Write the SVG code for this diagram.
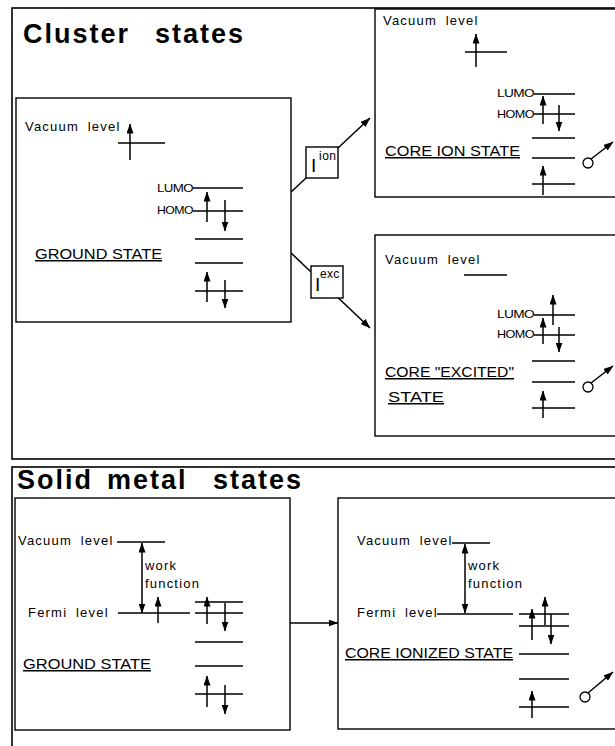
<svg xmlns="http://www.w3.org/2000/svg" width="615" height="746" viewBox="0 0 615 746">
<defs>
<marker id="ah" markerUnits="userSpaceOnUse" markerWidth="10" markerHeight="7" viewBox="0 0 10 7" refX="9.5" refY="3.5" orient="auto-start-reverse">
<path d="M0,0 L10,3.5 L0,7 z" fill="#000"/>
</marker>
</defs>
<style>
.frame{fill:none;stroke:#000;stroke-width:1.6}
.box{fill:#fff;stroke:#000;stroke-width:1.4}
.lvl{stroke:#000;stroke-width:1.3}
.ar{stroke:#000;stroke-width:1.5;marker-end:url(#ah)}
.dar{stroke:#000;stroke-width:1.5;marker-end:url(#ah);marker-start:url(#ah)}
.conn{stroke:#000;stroke-width:1.5;fill:none;marker-end:url(#ah)}
.title{font-family:"Liberation Sans",Arial,sans-serif;font-weight:bold;font-size:27px;letter-spacing:2px;fill:#000}
.lab{font-family:"Liberation Sans",Arial,sans-serif;font-size:13px;letter-spacing:1.2px;word-spacing:4px;fill:#000}
.mo{font-family:"Liberation Sans",Arial,sans-serif;font-size:11px;letter-spacing:-0.5px;fill:#000}
.st{font-family:"Liberation Sans",Arial,sans-serif;font-size:15px;text-decoration:underline;fill:#000}
.sym{font-family:"Liberation Sans",Arial,sans-serif;fill:#000}
.el{fill:#fff;stroke:#000;stroke-width:1.3}
</style>
<rect width="615" height="746" fill="#fff"/>

<g id="cluster-frame">
<rect class="frame" x="12" y="8" width="620" height="451"/>
<text class="title" y="43"><tspan x="23">Cluster</tspan><tspan x="155">states</tspan></text>
</g>

<g id="solid-frame">
<rect class="frame" x="12" y="467" width="620" height="300"/>
<text class="title" y="489"><tspan x="17">Solid</tspan><tspan x="107">metal</tspan><tspan x="213">states</tspan></text>
</g>

<g id="connectors">
<line class="conn" x1="290" y1="193" x2="370" y2="118"/>
<line class="conn" x1="290" y1="252" x2="370" y2="328"/>
<line class="conn" x1="290" y1="623" x2="338" y2="623"/>
</g>

<g id="label-ion">
<rect class="box" x="306" y="147" width="32" height="31"/>
<text class="sym" x="311" y="172" font-size="19">I</text>
<text class="sym" x="319" y="160" font-size="12" letter-spacing="0.5">ion</text>
</g>

<g id="label-exc">
<rect class="box" x="311" y="266" width="32" height="32"/>
<text class="sym" x="315" y="291" font-size="19">I</text>
<text class="sym" x="320" y="278" font-size="12" letter-spacing="0.3">exc</text>
</g>

<g id="cluster-ground-state">
<rect class="box" x="16" y="98" width="275" height="224"/>
<text class="lab" x="25" y="131">Vacuum level</text>
<line class="lvl" x1="118" y1="143" x2="165" y2="143"/>
<line class="ar" x1="130" y1="160" x2="130" y2="124"/>
<text class="mo" x="157" y="192" textLength="36" lengthAdjust="spacingAndGlyphs">LUMO</text>
<line class="lvl" x1="193" y1="188" x2="243" y2="188"/>
<text class="mo" x="157" y="214" textLength="36" lengthAdjust="spacingAndGlyphs">HOMO</text>
<line class="lvl" x1="193" y1="211" x2="243" y2="211"/>
<line class="ar" x1="207" y1="222" x2="207" y2="192"/>
<line class="ar" x1="225" y1="200" x2="225" y2="231"/>
<line class="lvl" x1="195" y1="239" x2="243" y2="239"/>
<line class="lvl" x1="195" y1="263" x2="243" y2="263"/>
<line class="lvl" x1="195" y1="291" x2="243" y2="291"/>
<line class="ar" x1="207" y1="302" x2="207" y2="272"/>
<line class="ar" x1="225" y1="280" x2="225" y2="308"/>
<text class="st" x="35" y="259" textLength="127" lengthAdjust="spacingAndGlyphs">GROUND STATE</text>
</g>

<g id="core-ion-state">
<rect class="box" x="375" y="9" width="260" height="188"/>
<text class="lab" x="383" y="25">Vacuum level</text>
<line class="lvl" x1="465" y1="52" x2="507" y2="52"/>
<line class="ar" x1="476" y1="67" x2="476" y2="34"/>
<text class="mo" x="497" y="97" textLength="37" lengthAdjust="spacingAndGlyphs">LUMO</text>
<line class="lvl" x1="534" y1="94" x2="575" y2="94"/>
<text class="mo" x="497" y="118" textLength="37" lengthAdjust="spacingAndGlyphs">HOMO</text>
<line class="lvl" x1="534" y1="114" x2="575" y2="114"/>
<line class="ar" x1="543" y1="124" x2="543" y2="96"/>
<line class="ar" x1="559" y1="105" x2="559" y2="131"/>
<line class="lvl" x1="532" y1="138" x2="575" y2="138"/>
<line class="lvl" x1="532" y1="158" x2="575" y2="158"/>
<line class="lvl" x1="532" y1="184" x2="575" y2="184"/>
<line class="ar" x1="543" y1="195" x2="543" y2="166"/>
<text class="st" x="385" y="156" textLength="135" lengthAdjust="spacingAndGlyphs">CORE ION STATE</text>
<circle class="el" cx="588" cy="163" r="5"/>
<line class="ar" x1="591" y1="159" x2="613" y2="142"/>
</g>

<g id="core-excited-state">
<rect class="box" x="375" y="235" width="260" height="201"/>
<text class="lab" x="385" y="264">Vacuum level</text>
<line class="lvl" x1="464" y1="275" x2="507" y2="275"/>
<text class="mo" x="497" y="318" textLength="37" lengthAdjust="spacingAndGlyphs">LUMO</text>
<line class="lvl" x1="534" y1="315" x2="575" y2="315"/>
<line class="ar" x1="553" y1="325" x2="553" y2="295"/>
<text class="mo" x="497" y="338" textLength="37" lengthAdjust="spacingAndGlyphs">HOMO</text>
<line class="lvl" x1="534" y1="335" x2="575" y2="335"/>
<line class="ar" x1="543" y1="344" x2="543" y2="318"/>
<line class="ar" x1="559" y1="327" x2="559" y2="352"/>
<line class="lvl" x1="532" y1="361" x2="575" y2="361"/>
<line class="lvl" x1="532" y1="382" x2="575" y2="382"/>
<line class="lvl" x1="532" y1="408" x2="575" y2="408"/>
<line class="ar" x1="543" y1="418" x2="543" y2="391"/>
<text class="st" x="385" y="377" textLength="129" lengthAdjust="spacingAndGlyphs">CORE "EXCITED"</text>
<text class="st" x="388" y="402" textLength="56" lengthAdjust="spacingAndGlyphs">STATE</text>
<circle class="el" cx="588" cy="387" r="5"/>
<line class="ar" x1="591" y1="383" x2="613" y2="366"/>
</g>

<g id="solid-ground-state">
<rect class="box" x="15" y="498" width="275" height="232"/>
<text class="lab" x="18" y="545">Vacuum level</text>
<line class="lvl" x1="117" y1="542" x2="165" y2="542"/>
<line class="dar" x1="142" y1="543" x2="142" y2="613"/>
<text class="lab" x="145" y="570">work</text>
<text class="lab" x="145" y="588">function</text>
<text class="lab" x="28" y="617">Fermi level</text>
<line class="lvl" x1="118" y1="613" x2="190" y2="613"/>
<line class="ar" x1="158" y1="623" x2="158" y2="597"/>
<line class="lvl" x1="195" y1="602" x2="243" y2="602"/>
<line class="lvl" x1="195" y1="613" x2="243" y2="613"/>
<line class="ar" x1="207" y1="624" x2="207" y2="597"/>
<line class="ar" x1="225" y1="603" x2="225" y2="631"/>
<line class="lvl" x1="195" y1="642" x2="243" y2="642"/>
<line class="lvl" x1="195" y1="666" x2="243" y2="666"/>
<line class="lvl" x1="195" y1="694" x2="243" y2="694"/>
<line class="ar" x1="207" y1="707" x2="207" y2="676"/>
<line class="ar" x1="225" y1="685" x2="225" y2="714"/>
<text class="st" x="23" y="669" textLength="128" lengthAdjust="spacingAndGlyphs">GROUND STATE</text>
</g>

<g id="core-ionized-state">
<rect class="box" x="338" y="498" width="300" height="231"/>
<text class="lab" x="357" y="545">Vacuum level</text>
<line class="lvl" x1="452" y1="543" x2="490" y2="543"/>
<line class="dar" x1="465" y1="544" x2="465" y2="613"/>
<text class="lab" x="468" y="570">work</text>
<text class="lab" x="468" y="588">function</text>
<text class="lab" x="357" y="617">Fermi level</text>
<line class="lvl" x1="437" y1="614" x2="513" y2="614"/>
<line class="lvl" x1="519" y1="614" x2="569" y2="614"/>
<line class="lvl" x1="519" y1="626" x2="569" y2="626"/>
<line class="ar" x1="532" y1="640" x2="532" y2="609"/>
<line class="ar" x1="545" y1="625" x2="545" y2="597"/>
<line class="ar" x1="551" y1="614" x2="551" y2="644"/>
<line class="lvl" x1="519" y1="654" x2="569" y2="654"/>
<line class="lvl" x1="519" y1="679" x2="569" y2="679"/>
<line class="lvl" x1="519" y1="707" x2="569" y2="707"/>
<line class="ar" x1="532" y1="718" x2="532" y2="691"/>
<text class="st" x="345" y="658" textLength="168" lengthAdjust="spacingAndGlyphs">CORE IONIZED STATE</text>
<circle class="el" cx="585" cy="697" r="5"/>
<line class="ar" x1="588" y1="693" x2="613" y2="672"/>
</g>
</svg>
